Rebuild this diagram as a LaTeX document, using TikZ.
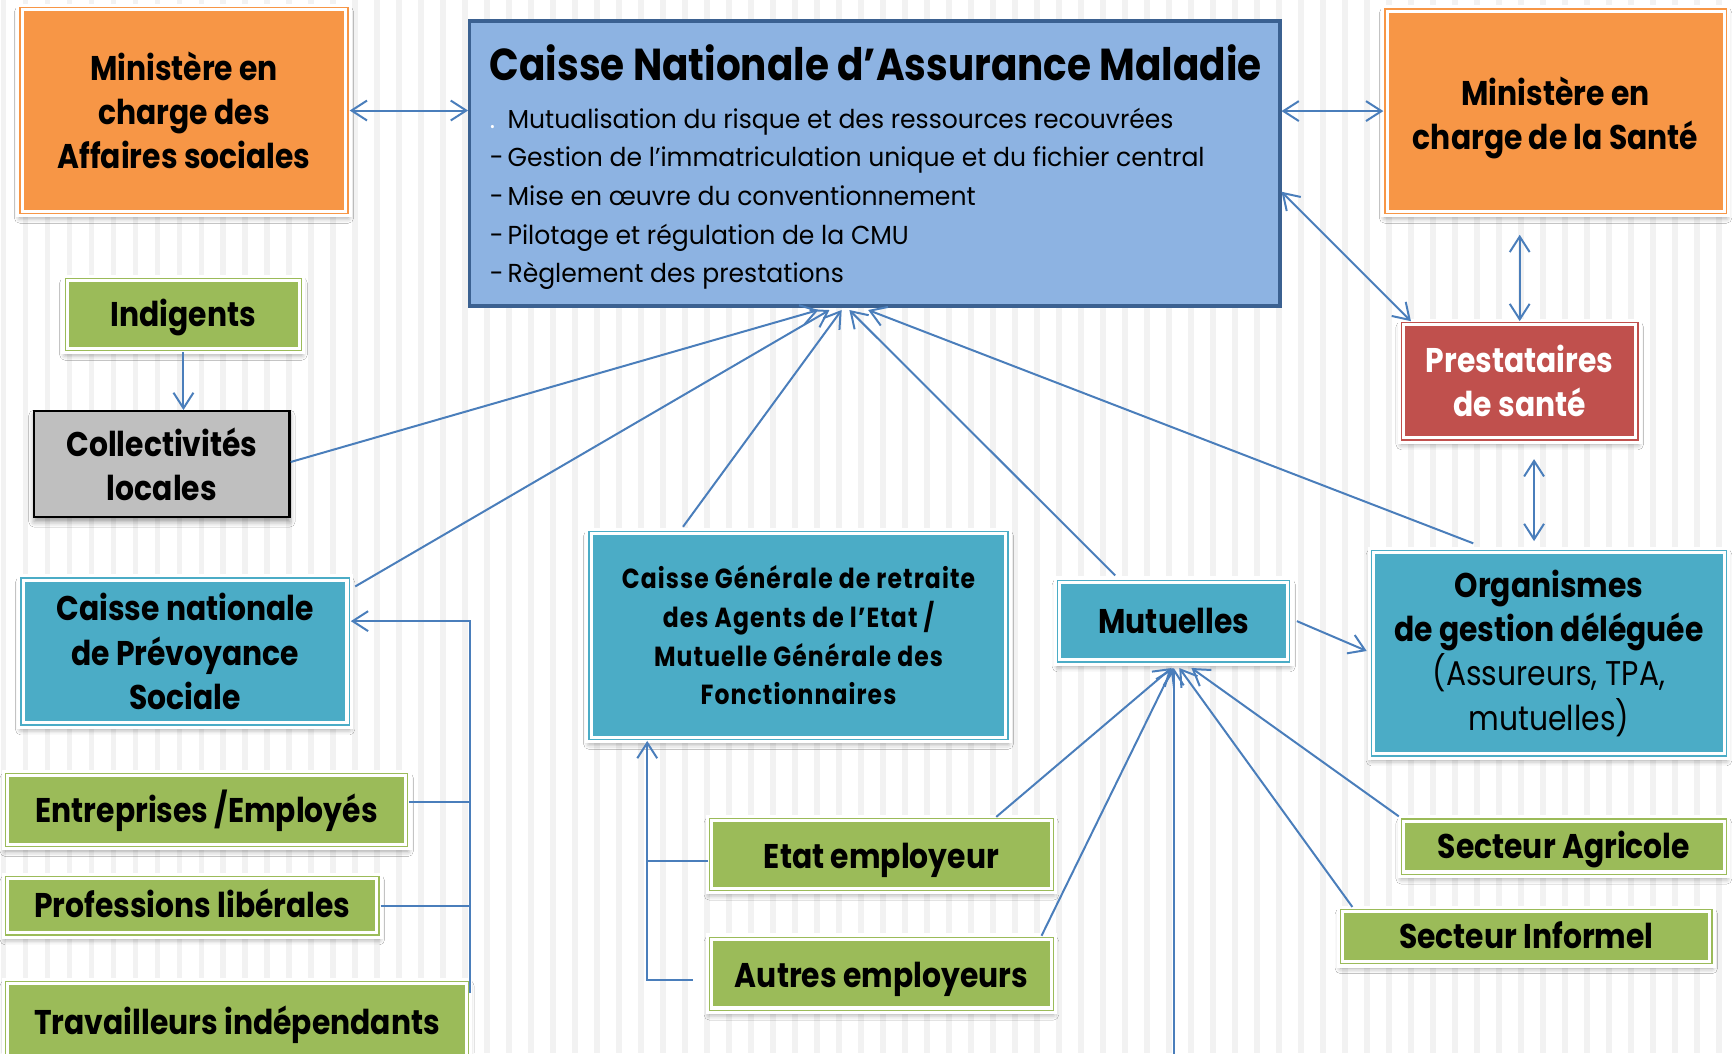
\documentclass[tikz,border=0pt]{standalone}
\usepackage{fontspec}
\setmainfont{Poppins}[FakeStretch=0.87]
\newfontfamily\bulfont{Poppins}[FakeStretch=0.965]
\newfontfamily\cgfont{Poppins}[FakeStretch=0.85, LetterSpace=4]
\usetikzlibrary{arrows.meta,calc,shadows.blur}
\definecolor{cOr}{HTML}{F79646}
\definecolor{cGr}{HTML}{9BBB59}
\definecolor{cTe}{HTML}{4BACC6}
\definecolor{cRe}{HTML}{C0504D}
\definecolor{cBl}{HTML}{8DB3E2}
\definecolor{cBd}{HTML}{3B6191}
\definecolor{cLn}{HTML}{4A7EBB}
\definecolor{cSt}{HTML}{F2F2F2}
\definecolor{cGy}{HTML}{BFBFBF}
\newcommand{\fbig}{\bfseries\fontsize{31}{40}\selectfont}
\newcommand{\fmid}{\cgfont\bfseries\fontsize{25}{35}\selectfont}
\newcommand{\ftitle}{\bfseries\fontsize{40.5}{48}\selectfont}
\newcommand{\freg}{\bulfont\mdseries\fontsize{23.5}{35}\selectfont}
\tikzset{
  pbox/.style={rectangle, inner sep=0pt, fill=#1, draw=white, double=#1,
    double distance=1.2pt, line width=2.8pt, align=center, font=\fbig,
    blur shadow={shadow xshift=0pt, shadow yshift=-4pt, shadow blur radius=5pt, shadow opacity=40}},
  collbox/.style={rectangle, inner sep=0pt, fill=cGy, draw=black, line width=2pt,
    align=center, font=\fbig,
    blur shadow={shadow xshift=0pt, shadow yshift=-4pt, shadow blur radius=5pt, shadow opacity=40}},
  cnambox/.style={rectangle, inner sep=0pt, fill=cBl, draw=cBd, line width=3pt},
  one/.style={text height=21.7pt, text depth=0pt},
  txt/.style={anchor=base west, inner sep=0pt},
  conn/.style={draw=cLn, line width=1.8pt},
  arr/.style={conn, -{Straight Barb[length=14pt,width=18pt,line width=1.8pt]}},
  darr/.style={conn, {Straight Barb[length=14pt,width=18pt,line width=1.8pt]}-{Straight Barb[length=14pt,width=18pt,line width=1.8pt]}},
}
\begin{document}
\begin{tikzpicture}[x=1pt,y=-1pt]
\useasboundingbox (0,0) rectangle (1568,953);
\clip (0,0) rectangle (1568,953);
\fill[white] (0,0) rectangle (1568,953);
\foreach \k in {0,...,79} {\fill[cSt] ({0.5+19.9*\k},0) rectangle ++(5.2,953);}

% nodes
\node[pbox=cOr, minimum width=297pt, minimum height=186pt] (affsoc) at (166.5,100) {Ministère en\\charge des\\Affaires sociales};
\node[cnambox, minimum width=733pt, minimum height=258pt] (cnam) at (791.5,148) {};
\node[txt, font=\ftitle] (cnamT) at (443,73) {Caisse Nationale d’Assurance Maladie};
\node[txt, font=\freg] (cb1) at (443,116) {\makebox[16pt][l]{\color{white}.}Mutualisation du risque et des ressources recouvrées};
\node[txt, font=\freg] (cb2) at (443,151) {\makebox[16pt][l]{-}Gestion de l’immatriculation unique et du fichier central};
\node[txt, font=\freg] (cb3) at (443,186) {\makebox[16pt][l]{-}Mise en œuvre du conventionnement};
\node[txt, font=\freg] (cb4) at (443,221) {\makebox[16pt][l]{-}Pilotage et régulation de la CMU};
\node[txt, font=\freg] (cb5) at (443,256) {\makebox[16pt][l]{-}Règlement des prestations};
\node[pbox=cOr, minimum width=309pt, minimum height=185pt] (minsante) at (1407.5,100.5) {\raisebox{-13pt}[0pt][0pt]{\begin{tabular}{@{}c@{}}Ministère en\\charge de la Santé\end{tabular}}};
\node[pbox=cGr, one, minimum width=214pt, minimum height=65pt] (indig) at (166,284.5) {Indigents};
\node[collbox, minimum width=231pt, minimum height=96pt] (coll) at (146.5,420) {Collectivités\\locales};
\node[pbox=cTe, minimum width=297pt, minimum height=133pt] (cnps) at (167.5,589.5) {Caisse nationale\\de Prévoyance\\Sociale};
\node[pbox=cGr, one, minimum width=364pt, minimum height=66pt] (entr) at (187,733) {Entreprises /Employés};
\node[pbox=cGr, one, minimum width=338pt, minimum height=53pt] (prof) at (174,819.5) {Professions libérales};
\node[pbox=cGr, one, minimum width=419pt, minimum height=74pt] (trav) at (214.5,925) {Travailleurs indépendants};
\node[pbox=cTe, minimum width=379pt, minimum height=188pt, font=\fmid] (cgrae) at (722.5,575) {Caisse Générale de retraite\\des Agents de l’Etat /\\Mutuelle Générale des\\Fonctionnaires};
\node[pbox=cGr, one, minimum width=311pt, minimum height=65pt] (etat) at (797.5,773) {\raisebox{-2pt}{Etat employeur}};
\node[pbox=cGr, one, minimum width=311pt, minimum height=66pt] (autres) at (797.5,881) {\raisebox{-2pt}{Autres employeurs}};
\node[pbox=cTe, one, minimum width=210pt, minimum height=74pt] (mut) at (1062,562) {Mutuelles};
\node[pbox=cTe, minimum width=321pt, minimum height=186pt] (org) at (1401.5,591) {Organismes\\de gestion déléguée\\{\mdseries (Assureurs, TPA,}\\{\mdseries mutuelles)}};
\node[pbox=cRe, minimum width=214pt, minimum height=106pt, text=white] (prest) at (1375,345) {Prestataires\\de santé};
\node[pbox=cGr, one, minimum width=294pt, minimum height=50pt] (agri) at (1415,766) {Secteur Agricole};
\node[pbox=cGr, one, minimum width=336pt, minimum height=49pt] (info) at (1381,847.5) {Secteur Informel};

% connectors
\draw[darr] (affsoc.east) -- (affsoc.east -| cnam.west);
\draw[darr] (cnam.east |- minsante.west) -- (minsante.west);
\draw[darr] ($(cnam.south east)+(0,-105)$) -- ($(prest.north west)+(10,0)$);
\draw[darr] ($(prest.north |- minsante.south)+(0,18)$) -- (prest.north);
\draw[darr] ($(prest.south)+(13,16)$) -- ($(org.north)+(-13.5,-7)$);

\draw[arr] ($(coll.east)+(0,-2)$) -- ($(cnam.south west)+(317,2)$);
\draw[arr] ($(cnps.north east)+(4,9)$) -- ($(cnam.south west)+(327,2)$);
\draw[arr] ($(cgrae.north)+(-104.5,-3)$) -- ($(cnam.south west)+(338,2)$);
\draw[arr] ($(mut.north)+(-53,-3)$) -- ($(cnam.south west)+(345,2)$);
\draw[arr] ($(org.north)+(-68.5,-5)$) -- ($(cnam.south west)+(362,2)$);

\draw[arr] (indig.south) -- (indig.south |- coll.north);

\coordinate (jn) at ($(cnps.east)+(108,-27.5)$);
\draw[arr] ($(trav.north east)+(0,12)$) -- (jn) -- (jn -| cnps.east);
\draw[conn] ($(entr.east)+(0,-7)$) -- ($(entr.east -| jn)+(0,-7)$);
\draw[conn] (prof.east) -- (prof.east -| jn);

\coordinate (cb) at ($(autres.west)+(-14,6)$);
\coordinate (cv) at ($(cgrae.south west)+(54,0)$);
\draw[arr] (cb) -| (cv);
\draw[conn] ($(etat.west)+(0,6)$) -- ($(etat.west -| cv)+(0,6)$);

\coordinate (mbot) at (1062,960);
\draw[arr] ($(etat.north east)+(-53,0)$) -- ($(mut.south)+(-2,4)$);
\draw[arr] ($(autres.north east)+(-12,0)$) -- ($(mut.south)+(-1,4)$);
\draw[arr] (mbot) -- ($(mut.south)+(0,4)$);
\draw[arr] ($(info.north west)+(12,-1)$) -- ($(mut.south)+(5,4)$);
\draw[arr] ($(agri.north west)+(-1,-1)$) -- ($(mut.south)+(16,4)$);
\draw[arr] ($(mut.east)+(5,0)$) -- ($(org.west)+(-3,-2)$);
\end{tikzpicture}
\end{document}
